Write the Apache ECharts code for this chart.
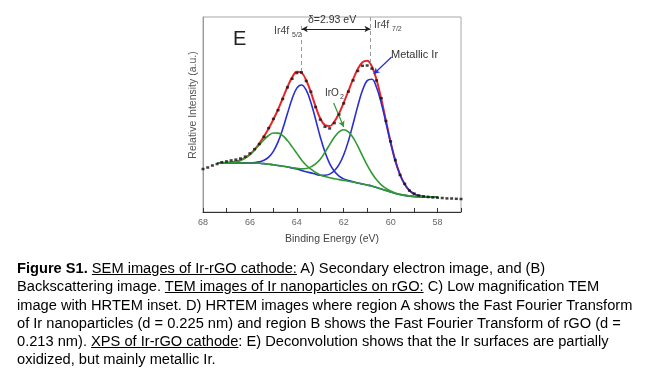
<!DOCTYPE html>
<html><head><meta charset="utf-8">
<script src="https://cdn.jsdelivr.net/npm/echarts@6/dist/echarts.min.js"></script>
<style>
html,body{margin:0;padding:0;background:#fff;}
#chart{position:absolute;left:0;top:0;width:654px;height:386px;}
#cap{position:absolute;left:17px;top:259px;font-family:"Liberation Sans",Arial,sans-serif;font-size:14.65px;line-height:18.3px;color:#000;white-space:nowrap;}
#cap u{text-decoration:underline;}
</style></head>
<body>
<div id="chart"></div>
<div id="cap"><b>Figure S1.</b> <u>SEM images of Ir-rGO cathode:</u> A) Secondary electron image, and (B)<br>Backscattering image. <u>TEM images of Ir nanoparticles on rGO:</u> C) Low magnification TEM<br>image with HRTEM inset. D) HRTEM images where region A shows the Fast Fourier Transform<br>of Ir nanoparticles (d = 0.225 nm) and region B shows the Fast Fourier Transform of rGO (d =<br>0.213 nm). <u>XPS of Ir-rGO cathode</u>: E) Deconvolution shows that the Ir surfaces are partially<br>oxidized, but mainly metallic Ir.</div>
<script>
// Binding energy grid (eV) for fitted components
const modelEnergy = [67.4,67.2,67.0,66.8,66.6,66.4,66.2,66.0,65.8,65.6,65.4,65.2,65.0,64.8,64.6,64.4,64.2,64.0,63.8,63.6,63.4,63.2,63.0,62.8,62.6,62.4,62.2,62.0,61.8,61.6,61.4,61.2,61.0,60.8,60.6,60.4,60.2,60.0,59.8,59.6,59.4,59.2,59.0,58.8,58.6,58.4,58.2,58.0];
// Metallic Ir 4f5/2 component (blue)
const metal52 = [49,49,49,49,49,49,49.1,49.2,49.5,50.2,51.7,54.8,60.7,70.1,83.2,98.5,113.2,123.9,127.0,121.9,109.6,92.7,75.0,59.9,48.4,40.7,35.9,33.1,31.4,30.2,29,28,27,26,24.5,23,21.5,20,18.5,17.5,16.6,16,15.5,15.2,15,15,15,15];
// Metallic Ir 4f7/2 component (blue)
const metal72 = [49,49,49,49,49,49,49,49,49,48.8,48.4,47.8,47.2,46.5,45.8,45,44,43,41.5,40.2,39.1,37.8,36.7,36.8,37.9,41.2,47.3,57.2,71.1,88.2,106.1,121.7,131.4,132.7,124.5,109.0,89.3,69.0,51.0,37.3,27.6,21.6,18.1,16.3,15.5,15.2,15,15];
// IrO2 4f5/2 component (green)
const oxide52 = [49,49.1,49.3,49.7,50.4,51.8,54.1,57.4,61.9,67.1,72.3,76.5,79.0,78.9,76.3,71.4,65.1,58.6,52.1,46.8,42.8,39.5,37.0,35.4,34.2,33.3,32.4,31.6,30.8,30,29,28,27,26,24.5,23,21.5,20,18.5,17.5,16.6,16,15.5,15.2,15,15,15,15];
// IrO2 4f7/2 component (green)
const oxide72 = [49,49,49,49,49,49,49,49,49,48.8,48.4,47.8,47.2,46.5,45.8,45.1,44.3,43.7,43.1,43.5,45.1,48.1,52.8,59.7,67.4,74.8,80.2,82.2,80.2,74.4,65.8,56.1,46.8,38.8,32.2,27.2,23.6,21.0,18.9,17.7,16.7,16,15.5,15.2,15,15,15,15];
// Fit envelope (red)
const envelope = [49,49.1,49.3,49.7,50.4,51.8,54.2,57.6,62.4,68.5,75.6,83.5,92.5,102.5,113.7,125.0,134.6,140.2,139.2,131.8,119.6,105.6,93.5,86.8,85.9,90.4,98.6,109.3,121.1,132.8,142.9,149.8,151.2,145.5,132.2,113.2,91.4,70.0,51.4,37.5,27.7,21.6,18.1,16.3,15.5,15.2,15,15];
// Measured data
const dataEnergy = [68.0,67.8,67.6,67.4,67.2,67.0,66.8,66.6,66.4,66.2,66.0,65.8,65.6,65.4,65.2,65.0,64.8,64.6,64.4,64.2,64.0,63.8,63.6,63.4,63.2,63.0,62.8,62.6,62.4,62.2,62.0,61.8,61.6,61.4,61.2,61.0,60.8,60.6,60.4,60.2,60.0,59.8,59.6,59.4,59.2,59.0,58.8,58.6,58.4,58.2,58.0,57.8,57.6,57.4,57.2,57.0];
const dataCounts = [43.0,44.5,46.5,48.0,49.8,50.6,51.6,52.4,53.5,55.4,58.6,62.9,68.0,75.2,83.9,93.1,101.8,113.0,124.6,133.2,139.0,139.6,131.0,120.3,105.0,92.4,85.2,83.6,88.9,97.5,108.6,120.4,131.6,141.0,146.2,146.5,143.4,131.5,113.8,91.0,70.6,51.9,37.0,28.2,21.4,18.4,16.5,15.6,15.0,14.6,14.3,14.0,13.6,13.5,13.2,13.0];
// Peak positions (eV)
const peak52 = 63.79, peak72 = 60.86;

const FONT = '"Liberation Sans", Arial, sans-serif';
const RED = '#e8262a', BLUE = '#2a2ed0', GREEN = '#2f9a32';
const pairs = (xs, ys) => xs.map((x, i) => [x, ys[i]]);
const line = (d, color, w, z) => ({type:'line', data:d, smooth:0.4, showSymbol:false, symbol:'none', lineStyle:{color:color, width:w}, z:z, silent:true});

const chart = echarts.init(document.getElementById('chart'), null, {renderer:'canvas'});
chart.setOption({
  animation:false,
  backgroundColor:'#fff',
  grid:{left:203, right:193, top:17, bottom:174, show:true, borderColor:'#a8a8a8', borderWidth:1},
  xAxis:{type:'value', min:57, max:68, interval:1, inverse:true,
    axisLine:{show:true, onZero:false, lineStyle:{color:'#333', width:1}},
    axisTick:{show:true, inside:true, length:4, lineStyle:{color:'#333'}},
    axisLabel:{fontSize:9, color:'#666', margin:6, fontFamily:FONT, formatter:v => (v % 2 === 0 ? String(v) : '')},
    splitLine:{show:false}},
  yAxis:{type:'value', min:0, max:195,
    axisLine:{show:true, lineStyle:{color:'#999'}}, axisTick:{show:false}, axisLabel:{show:false}, splitLine:{show:false}},
  series:[
    line(pairs(modelEnergy, envelope), RED, 2, 2),
    line(pairs(modelEnergy, metal52), BLUE, 1.6, 3),
    line(pairs(modelEnergy, metal72), BLUE, 1.6, 3),
    line(pairs(modelEnergy, oxide52), GREEN, 1.6, 4),
    line(pairs(modelEnergy, oxide72), GREEN, 1.6, 4),
    {type:'scatter', data:pairs(dataEnergy, dataCounts), symbol:'rect', symbolSize:[3,2.5], itemStyle:{color:'#111'}, z:5, silent:true},
    {type:'line', data:[], silent:true, z:6,
      markLine:{silent:true, animation:false, symbol:['none','none'], label:{show:false},
        lineStyle:{color:'#9a9a9a', type:[4,3], width:1},
        data:[
          [{coord:[peak52,140]},{coord:[peak52,186]}],
          [{coord:[peak72,149]},{coord:[peak72,195]}]
        ]}},
    {type:'line', data:[], silent:true, z:6,
      markLine:{silent:true, animation:false, symbol:['arrow','arrow'], symbolSize:[5,6], label:{show:false},
        lineStyle:{color:'#222', type:'solid', width:1},
        data:[[{coord:[peak52,183]},{coord:[peak72,183]}]]}},
    {type:'line', data:[], silent:true, z:6,
      markLine:{silent:true, animation:false, symbol:['none','arrow'], symbolSize:[5,6], label:{show:false},
        lineStyle:{color:BLUE, type:'solid', width:1.2},
        data:[[{coord:[59.96,155]},{coord:[60.72,138]}]]}},
    {type:'line', data:[], silent:true, z:6,
      markLine:{silent:true, animation:false, symbol:['none','arrow'], symbolSize:[5,6], label:{show:false},
        lineStyle:{color:GREEN, type:'solid', width:1.2},
        data:[[{coord:[62.43,109]},{coord:[62.0,85]}]]}}
  ],
  graphic:[
    {type:'text', left:233, top:29, style:{text:'E', font:'20px '+FONT, fill:'#222'}},
    {type:'text', left:308, top:15, style:{text:'δ=2.93 eV', font:'10.5px '+FONT, fill:'#333'}},
    {type:'text', left:274, top:26, style:{text:'Ir4f', font:'10.5px '+FONT, fill:'#444'}},
    {type:'text', left:292, top:32, style:{text:'5/2', font:'7px '+FONT, fill:'#444'}},
    {type:'text', left:374, top:20, style:{text:'Ir4f', font:'10.5px '+FONT, fill:'#444'}},
    {type:'text', left:392, top:26, style:{text:'7/2', font:'7px '+FONT, fill:'#444'}},
    {type:'text', left:391, top:49, style:{text:'Metallic Ir', font:'11px '+FONT, fill:'#333'}},
    {type:'text', left:325, top:88, style:{text:'IrO', font:'10px '+FONT, fill:'#333'}},
    {type:'text', left:340, top:94, style:{text:'2', font:'7px '+FONT, fill:'#333'}},
    {type:'text', left:285, top:234, style:{text:'Binding Energy (eV)', font:'10.5px '+FONT, fill:'#444'}},
    {type:'text', x:193, y:105, rotation:Math.PI/2, style:{text:'Relative Intensity (a.u.)', font:'10.5px '+FONT, fill:'#555', align:'center', verticalAlign:'middle'}}
  ]
});
</script>
</body></html>
